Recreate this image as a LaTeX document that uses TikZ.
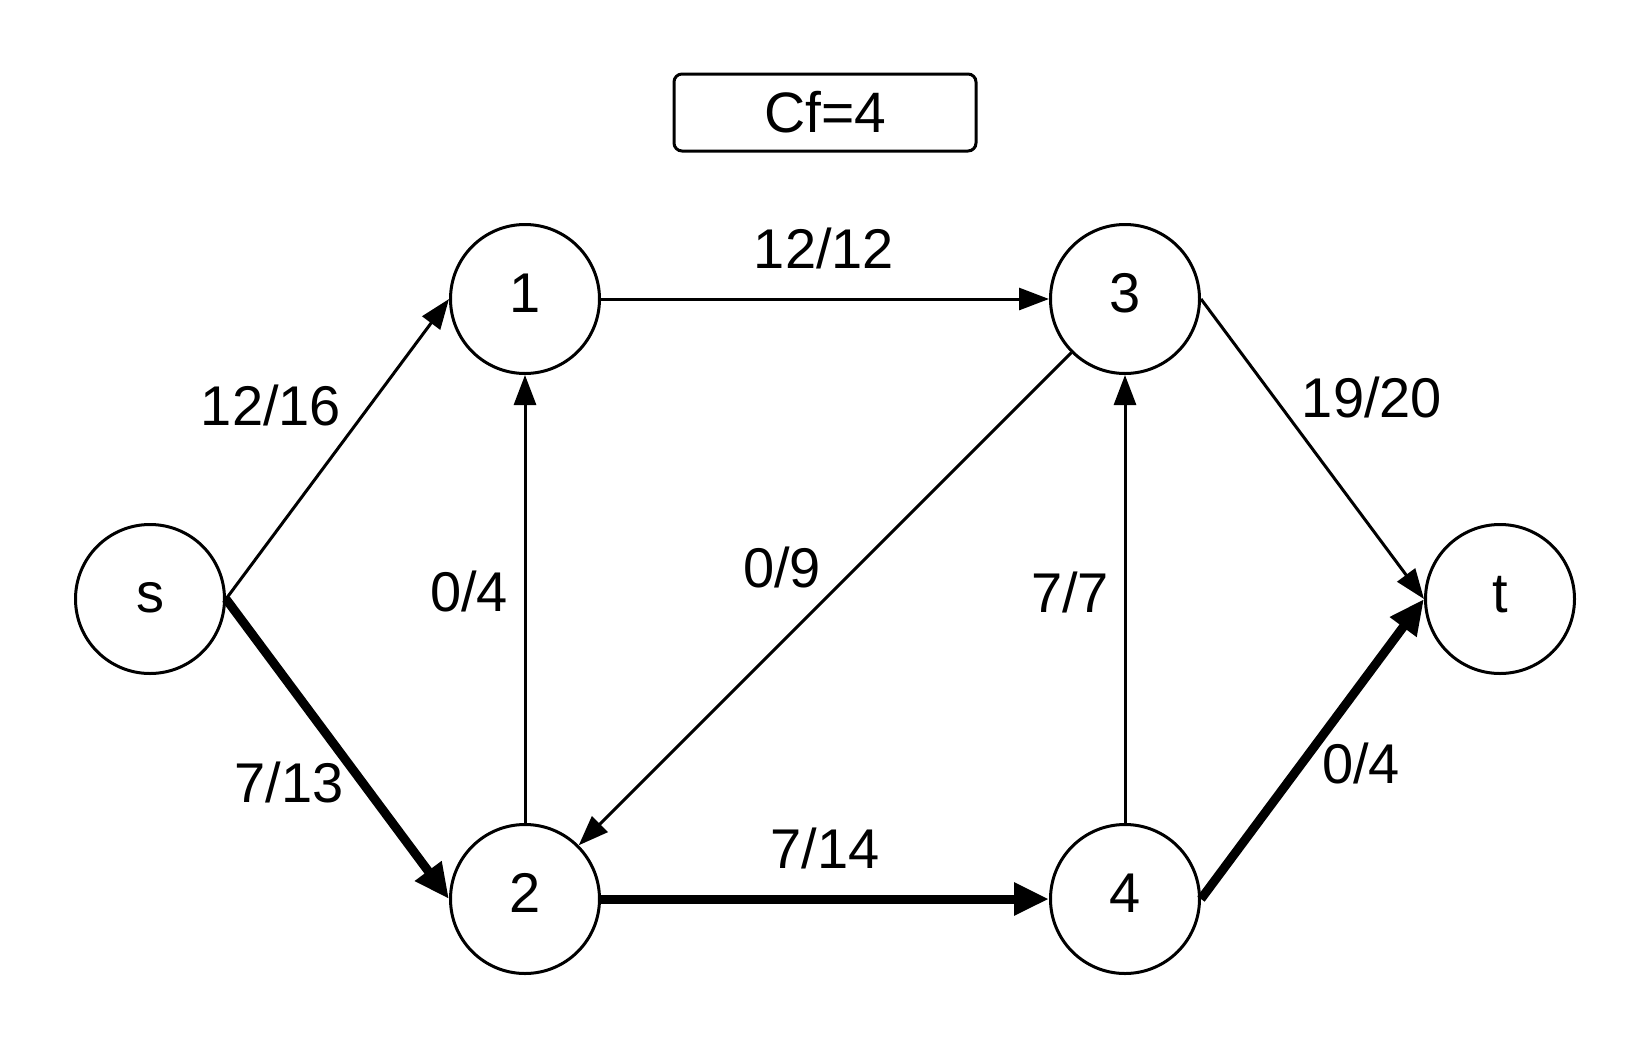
\documentclass[tikz,border=0pt]{standalone}
\usepackage{fontspec}
\setmainfont{Liberation Sans}
\usetikzlibrary{arrows.meta}
\begin{document}
\begin{tikzpicture}[x=1pt,y=-1pt,
  vert/.style={circle,draw,line width=3pt,minimum size=149pt,inner sep=0pt,text height=27pt,text depth=0pt,font=\fontsize{56}{64}\selectfont},
  lbl/.style={font=\fontsize{56}{64}\selectfont,inner sep=0pt},
  thin/.style={line width=3pt,-{Triangle[length=30pt,width=22pt]}},
  thick/.style={line width=9pt,-{Triangle[length=35pt,width=31pt]}}]
\useasboundingbox (0,0) rectangle (1650,1050);
\node[draw,line width=3pt,rounded corners=8pt,minimum width=302pt,minimum height=77pt,inner sep=0pt,font=\fontsize{57}{64}\selectfont] (cf) at (825,112.5) {Cf=4};
\node[vert] (s) at (150,599) {s};
\node[vert] (n1) at (525,299) {1};
\node[vert] (n3) at (1125,299) {3};
\node[vert] (n2) at (525,899) {2};
\node[vert] (n4) at (1125,899) {4};
\node[vert] (t) at (1500,599) {t};
\draw[thin] (s.east) -- (n1.west);
\draw[thick] (s.east) -- (n2.west);
\draw[thin] (n1.east) -- (n3.west);
\draw[thin] (n2.north) -- (n1.south);
\draw[thin] (n3.south west) -- (n2.north east);
\draw[thin] (n4.north) -- (n3.south);
\draw[thick] (n2.east) -- (n4.west);
\draw[thin] (n3.east) -- (t.west);
\draw[thick] (n4.east) -- (t.west);
\node[lbl] (l1) at (271,405) {12/16};
\node[lbl] (l2) at (289,782) {7/13};
\node[lbl] (l3) at (824,248) {12/12};
\node[lbl] (l4) at (469,591) {0/4};
\node[lbl] (l5) at (782,567) {0/9};
\node[lbl] (l6) at (1070,592) {7/7};
\node[lbl] (l7) at (825,848) {7/14};
\node[lbl] (l8) at (1372,397) {19/20};
\node[lbl] (l9) at (1361,763) {0/4};
\end{tikzpicture}
\end{document}
